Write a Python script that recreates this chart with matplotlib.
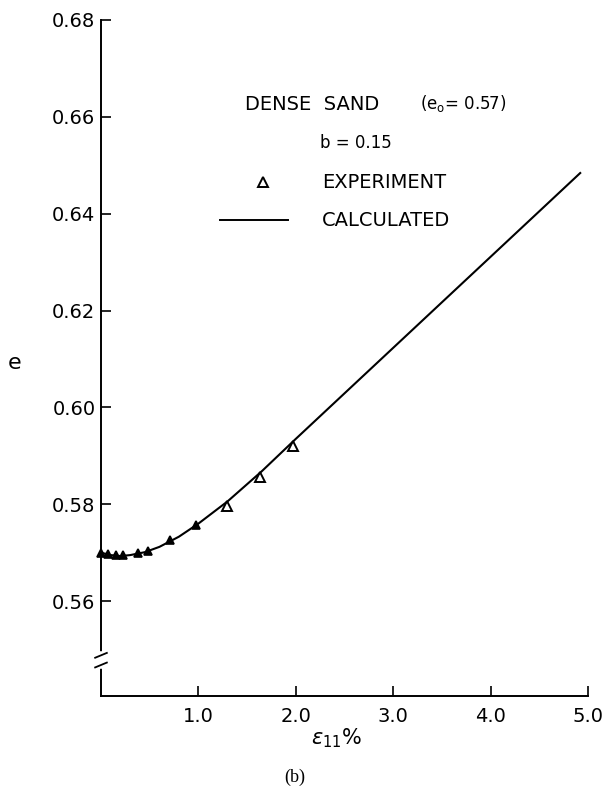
import matplotlib
matplotlib.use("Agg")
import matplotlib.pyplot as plt
from matplotlib.lines import Line2D

# ---- data ----
calc_x = [0.0, 0.1, 0.2, 0.3, 0.45, 0.6, 0.8, 1.0, 1.3, 1.65, 2.0, 2.5, 3.0, 3.5, 4.0, 4.5, 4.92]
calc_e = [0.5700, 0.5695, 0.5693, 0.5695, 0.5701, 0.5712, 0.5733, 0.5760, 0.5806, 0.5868,
          0.5935, 0.6029, 0.6123, 0.6217, 0.6311, 0.6405, 0.6484]

exp_x = [0.0, 0.07, 0.15, 0.23, 0.38, 0.48, 0.71, 0.98, 1.29, 1.63, 1.97]
exp_e = [0.5700, 0.5697, 0.5695, 0.5695, 0.5699, 0.5703, 0.5727, 0.5758, 0.5796, 0.5856, 0.5920]

y_ticks = [0.56, 0.58, 0.60, 0.62, 0.64, 0.66, 0.68]
y_tick_labels = ["0.56", "0.58", "0.60", "0.62", "0.64", "0.66", "0.68"]
x_ticks = [1.0, 2.0, 3.0, 4.0, 5.0]
x_tick_labels = ["1.0", "2.0", "3.0", "4.0", "5.0"]

W, H = 603, 792
fig = plt.figure(figsize=(W / 100, H / 100), dpi=100)
fig.patch.set_facecolor("white")

def fx(px):
    return px / W

def fy(py):
    return 1 - py / H

left, right, top, bottom = 101, 588, 20, 696
ax = fig.add_axes([fx(left), fy(bottom), fx(right) - fx(left), fy(top) - fy(bottom)])

# small-strain points appear as solid marks in the original (overlapping the curve)
n_solid = 8
ax.plot(exp_x[:n_solid], exp_e[:n_solid], linestyle="none", marker="^", markersize=6,
        markerfacecolor="black", markeredgecolor="black", markeredgewidth=1.2,
        zorder=2, clip_on=False)
ax.plot(exp_x[n_solid:], exp_e[n_solid:], linestyle="none", marker="^", markersize=7,
        markerfacecolor="white", markeredgecolor="black", markeredgewidth=1.4,
        zorder=2, clip_on=False)
ax.plot(calc_x, calc_e, color="black", linewidth=1.5, zorder=3, clip_on=False)

ax.set_xlim(0, 5.0)
ax.set_ylim(0.5404, 0.68)

for s in ["top", "right"]:
    ax.spines[s].set_visible(False)
for s in ["left", "bottom"]:
    ax.spines[s].set_linewidth(1.4)

ax.set_yticks(y_ticks)
ax.set_yticklabels(y_tick_labels)
ax.set_xticks(x_ticks)
ax.set_xticklabels(x_tick_labels)
ax.tick_params(axis="both", direction="in", length=7, width=1.2, labelsize=14, pad=4)
ax.tick_params(axis="x", pad=8)

# axis break on the y axis
yb = 0.5478
ax.plot([0, 0], [yb - 0.0012, yb + 0.0012], color="white", linewidth=4, zorder=5, clip_on=False)
for dy in (-0.0010, 0.0010):
    ax.plot([-0.06, 0.06], [yb + dy - 0.0005, yb + dy + 0.0005], color="black",
            linewidth=1.3, zorder=6, clip_on=False)

# axis labels
fig.text(fx(15), fy(363), "e", fontsize=16, ha="center", va="center")
fig.text(fx(337), fy(738), r"$\epsilon_{11}$%", fontsize=15, ha="center", va="center")
fig.text(fx(295), fy(777), "(b)", fontsize=13, ha="center", va="center",
         family="Liberation Serif")

# legend-like annotations
fig.text(fx(245), fy(104), "DENSE  SAND", fontsize=14, ha="left", va="center")
fig.text(fx(420), fy(104), r"(e$_{\rm o}$= 0.57)", fontsize=12, ha="left", va="center")
fig.text(fx(320), fy(143), "b = 0.15", fontsize=12, ha="left", va="center")
fig.add_artist(Line2D([fx(263)], [fy(182)], marker="^", markersize=7,
                      markerfacecolor="white", markeredgecolor="black", markeredgewidth=1.4))
fig.text(fx(322), fy(182), "EXPERIMENT", fontsize=14, ha="left", va="center")
fig.add_artist(Line2D([fx(220), fx(288)], [fy(220), fy(220)], color="black", linewidth=1.4))
fig.text(fx(322), fy(220), "CALCULATED", fontsize=14, ha="left", va="center")

fig.savefig("out.png", dpi=100, facecolor="white")
